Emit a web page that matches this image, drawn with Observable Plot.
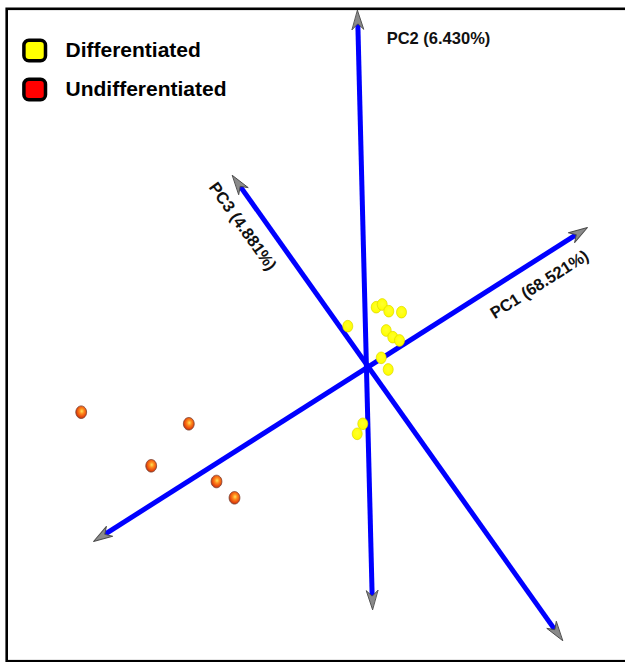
<!DOCTYPE html>
<html><head><meta charset="utf-8">
<script src="https://cdn.jsdelivr.net/npm/d3@7"></script>
<script src="https://cdn.jsdelivr.net/npm/@observablehq/plot@0.6"></script>
<style>
html,body{margin:0;padding:0;background:#fff;}
#chart{width:625px;height:662px;overflow:hidden;}
#chart svg{display:block;}
</style></head><body><div id="chart"></div>
<script>
// ---- data (projected PCA scores; origin = centre of the three axes) ----
const groups = ["Differentiated", "Undifferentiated"];
const groupColors = ["#ffff00", "#ff0000"];

const axisNames = ["PC1 (68.521%)", "PC2 (6.430%)", "PC3 (4.881%)"];
// tips of each projected axis (negative end, positive end)
const axisNegX = [-274, 5, 195];
const axisNegY = [-176, -244, -275];
const axisPosX = [220, -10, -135];
const axisPosY = [138, 355, 190];
// axis label anchors and angles
const labelX = [172, 71, -125];
const labelY = [81, 327, 139];
const labelAngle = [-32.4, 0, 54.6];

// sample scores
const diffX = [8.7, 14.7, 21.3, 34, -19.7, 18.7, 25.3, 32, 13.7, 20.7, -4.7, -10.3];
const diffY = [58.3, 61, 54.3, 53.3, 39.3, 35, 28.3, 25, 7.7, -4, -58.3, -68.3];
const undiffX = [-286.3, -178.7, -216.3, -151, -133];
const undiffY = [-46.7, -58.3, -100.3, -116, -132.3];

// ---- derived tables ----
const headLen = 19;
const trim = headLen * 0.7;
const axes = axisNames.map((name, i) => {
  const x1 = axisNegX[i], y1 = axisNegY[i], x2 = axisPosX[i], y2 = axisPosY[i];
  const len = Math.hypot(x2 - x1, y2 - y1);
  const ux = (x2 - x1) / len, uy = (y2 - y1) / len;
  return {name, x1: x1 + ux * trim, y1: y1 + uy * trim, x2: x2 - ux * trim, y2: y2 - uy * trim,
          rot: Math.atan2(x2 - x1, y2 - y1) * 180 / Math.PI};
});
const tips = axisNames.flatMap((name, i) => [
  {x: axisPosX[i], y: axisPosY[i], rotate: axes[i].rot},
  {x: axisNegX[i], y: axisNegY[i], rotate: axes[i].rot + 180}
]);
const labels = axisNames.map((name, i) => ({name, x: labelX[i], y: labelY[i], a: labelAngle[i]}));
const samples = [
  ...diffX.map((x, i) => ({x, y: diffY[i], group: groups[0]})),
  ...undiffX.map((x, i) => ({x, y: undiffY[i], group: groups[1]}))
];

// ---- custom shapes ----
const arrowHead = {
  draw(ctx, l) {
    const w = 5.8;
    ctx.moveTo(0, -l);
    ctx.lineTo(w, 0);
    ctx.lineTo(0, -l * 0.3);
    ctx.lineTo(-w, 0);
    ctx.closePath();
  }
};
const ellipse = {
  draw(ctx, size) {
    const r = Math.sqrt(size / Math.PI), rx = r * 0.9, ry = r * 1.05, k = 0.5523;
    ctx.moveTo(rx, 0);
    ctx.bezierCurveTo(rx, ry * k, rx * k, ry, 0, ry);
    ctx.bezierCurveTo(-rx * k, ry, -rx, ry * k, -rx, 0);
    ctx.bezierCurveTo(-rx, -ry * k, -rx * k, -ry, 0, -ry);
    ctx.bezierCurveTo(rx * k, -ry, rx, -ry * k, rx, 0);
    ctx.closePath();
  }
};
const roundSquare = {
  draw(ctx, size) {
    const h = Math.sqrt(size / Math.PI), hy = h * 0.95, rad = 5;
    ctx.moveTo(-h + rad, -hy);
    ctx.lineTo(h - rad, -hy); ctx.arcTo(h, -hy, h, -hy + rad, rad);
    ctx.lineTo(h, hy - rad); ctx.arcTo(h, hy, h - rad, hy, rad);
    ctx.lineTo(-h + rad, hy); ctx.arcTo(-h, hy, -h, hy - rad, rad);
    ctx.lineTo(-h, -hy + rad); ctx.arcTo(-h, -hy, -h + rad, -hy, rad);
    ctx.closePath();
  }
};

const font = '"Liberation Sans", Arial, sans-serif';

const legendMarks = groups.flatMap((g, i) => [
  Plot.dot([g], {frameAnchor: "top-left", dx: 34.2, dy: 50 + 39 * i, r: 10.8, symbol: roundSquare,
    fill: groupColors[i], stroke: "#000", strokeWidth: 3.5}),
  Plot.text([g], {frameAnchor: "top-left", dx: 65, dy: 49.5 + 39 * i, text: d => d, textAnchor: "start",
    lineAnchor: "middle", fontSize: 21, fontWeight: "bold", fill: "#000"})
]);

const svg = Plot.plot({
  width: 625,
  height: 662,
  margin: 0,
  x: {domain: [-367, 258], axis: null},
  y: {domain: [-297, 365], axis: null},
  style: {fontFamily: font, background: "#fff", color: "#000"},
  marks: [
    Plot.frame({stroke: "#000", strokeWidth: 2.6, insetTop: 8.3, insetLeft: 6.2, insetBottom: 1.3, insetRight: -6}),
    Plot.link(axes, {x1: "x1", y1: "y1", x2: "x2", y2: "y2", stroke: "#0000ff", strokeWidth: 5, strokeLinecap: "butt"}),
    Plot.vector(tips, {x: "x", y: "y", rotate: "rotate", length: headLen, anchor: "end", shape: arrowHead,
      fill: "#8a8a8a", stroke: "#4a4a4a", strokeWidth: 0.9}),
    Plot.dot(samples.filter(d => d.group === groups[0]), {x: "x", y: "y", r: 5.6, symbol: ellipse,
      fill: "url(#gradYellow)", stroke: "#d8d400", strokeWidth: 0.6}),
    Plot.dot(samples.filter(d => d.group === groups[1]), {x: "x", y: "y", r: 6, symbol: ellipse,
      fill: "url(#gradRed)", stroke: "#7a4030", strokeWidth: 0.8}),
    Plot.text(labels, {x: "x", y: "y", text: "name", rotate: "a", fontSize: 16.5, fontWeight: "bold",
      fill: "#111", textAnchor: "middle", lineAnchor: "middle"}),
    ...legendMarks
  ]
});

const defs = d3.select(svg).insert("defs", ":first-child");
const gr = defs.append("radialGradient").attr("id", "gradRed").attr("cx", 0.55).attr("cy", 0.42).attr("r", 0.6);
gr.append("stop").attr("offset", "0").attr("stop-color", "#ffe45a");
gr.append("stop").attr("offset", "0.35").attr("stop-color", "#ff8a1c");
gr.append("stop").attr("offset", "0.78").attr("stop-color", "#e4440c");
gr.append("stop").attr("offset", "1").attr("stop-color", "#a83a18");
const gy = defs.append("radialGradient").attr("id", "gradYellow").attr("cx", 0.5).attr("cy", 0.45).attr("r", 0.6);
gy.append("stop").attr("offset", "0").attr("stop-color", "#ffff30");
gy.append("stop").attr("offset", "0.8").attr("stop-color", "#ffff00");
gy.append("stop").attr("offset", "1").attr("stop-color", "#e6e200");

document.getElementById("chart").appendChild(svg);
</script>
</body></html>
